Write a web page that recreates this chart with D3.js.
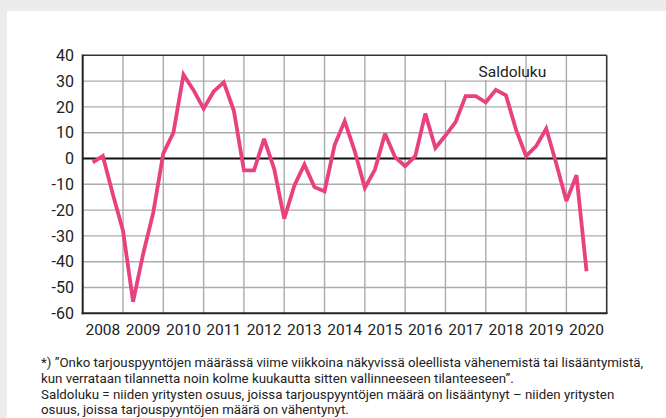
<!DOCTYPE html>
<html>
<head>
<meta charset="utf-8">
<script src="https://cdn.jsdelivr.net/npm/d3@7"></script>
<style>
  html, body { margin: 0; padding: 0; background: #ececec; }
  svg { display: block; }
</style>
</head>
<body>
<svg id="chart" width="666" height="418"></svg>
<script>
// ---- data ----
const quarters = [
  "2008Q1","2008Q2","2008Q3","2008Q4",
  "2009Q1","2009Q2","2009Q3","2009Q4",
  "2010Q1","2010Q2","2010Q3","2010Q4",
  "2011Q1","2011Q2","2011Q3","2011Q4",
  "2012Q1","2012Q2","2012Q3","2012Q4",
  "2013Q1","2013Q2","2013Q3","2013Q4",
  "2014Q1","2014Q2","2014Q3","2014Q4",
  "2015Q1","2015Q2","2015Q3","2015Q4",
  "2016Q1","2016Q2","2016Q3","2016Q4",
  "2017Q1","2017Q2","2017Q3","2017Q4",
  "2018Q1","2018Q2","2018Q3","2018Q4",
  "2019Q1","2019Q2","2019Q3","2019Q4",
  "2020Q1","2020Q2"
];
const saldoluku = [
  -1.5, 1, -14, -28,
  -55.5, -37, -21, 2,
  10, 32.5, 26.5, 19.3,
  26, 29.5, 18.5, -4.6,
  -4.6, 7.6, -4, -23.3,
  -10.5, -2.3, -11.1, -12.7,
  5.2, 14.5, 2.8, -11.4,
  -4.3, 9.6, 0.5, -3,
  0.9, 17.4, 4.1, 8.9,
  14.1, 24.2, 24.2, 21.8,
  26.6, 24.5, 11.2, 0.9,
  4.8, 11.6, -2, -16.5,
  -6.5, -43.7
];
const yearLabels = ["2008","2009","2010","2011","2012","2013","2014","2015","2016","2017","2018","2019","2020"];
const yTicks = [40, 30, 20, 10, 0, -10, -20, -30, -40, -50, -60];
const seriesLabel = "Saldoluku";
const footnoteLines = [
  "*) \u201dOnko tarjouspyyntöjen määrässä viime viikkoina näkyvissä oleellista vähenemistä tai lisääntymistä,",
  "kun verrataan tilannetta noin kolme kuukautta sitten vallinneeseen tilanteeseen\u201d.",
  "Saldoluku = niiden yritysten osuus, joissa tarjouspyyntöjen määrä on lisääntynyt – niiden yritysten",
  "osuus, joissa tarjouspyyntöjen määrä on vähentynyt."
];

// ---- layout ----
const svg = d3.select("#chart");
const L = 82.7, R = 606.7, T = 55.3, B = 313.3;
const font = "Roboto, 'DejaVu Sans', sans-serif";

svg.append("rect").attr("x", 7).attr("y", 11).attr("width", 659).attr("height", 407).attr("fill", "#fff");

const parseQ = s => +s.slice(0, 4) + (+s.slice(5)) / 4;
const x = d3.scaleLinear().domain([+yearLabels[0], +yearLabels[yearLabels.length - 1] + 1]).range([L, R]);
const y = d3.scaleLinear().domain([-60, 40]).range([B, T]);

const g = svg.append("g");

// horizontal gridlines
g.selectAll(".hg").data(yTicks.filter(v => v !== 40 && v !== -60 && v !== 0))
  .join("line")
  .attr("x1", L).attr("x2", R)
  .attr("y1", d => y(d)).attr("y2", d => y(d))
  .attr("stroke", "#ababab").attr("stroke-width", 1.4);

// vertical gridlines at year boundaries
g.selectAll(".vg").data(yearLabels.slice(1))
  .join("line")
  .attr("x1", d => x(+d)).attr("x2", d => x(+d))
  .attr("y1", T).attr("y2", B)
  .attr("stroke", "#ababab").attr("stroke-width", 1.4);

// label box (white, covering grid)
const lbl = { x0: x(2017) - 16, x1: x(2019) - 8 };
g.append("rect").attr("x", lbl.x0).attr("y", T + 1).attr("width", lbl.x1 - lbl.x0).attr("height", y(30) - T - 2.2).attr("fill", "#fff");
g.append("text").attr("x", 478.5).attr("y", 76.5)
  .attr("font-family", font).attr("font-size", 15.5).attr("fill", "#222")
  .text(seriesLabel);

// zero line
g.append("line").attr("x1", L).attr("x2", R).attr("y1", y(0)).attr("y2", y(0))
  .attr("stroke", "#111").attr("stroke-width", 2);

// frame
g.append("line").attr("x1", L).attr("x2", R).attr("y1", T).attr("y2", T).attr("stroke", "#333").attr("stroke-width", 1.6);
g.append("line").attr("x1", R).attr("x2", R).attr("y1", T).attr("y2", B).attr("stroke", "#333").attr("stroke-width", 1.6);
g.append("line").attr("x1", L).attr("x2", L).attr("y1", T - 0.8).attr("y2", B + 1).attr("stroke", "#222").attr("stroke-width", 2);
g.append("line").attr("x1", L - 1).attr("x2", R + 0.8).attr("y1", B).attr("y2", B).attr("stroke", "#222").attr("stroke-width", 2);

// y axis labels
g.selectAll(".yt").data(yTicks).join("text")
  .attr("x", 74).attr("y", d => y(d) + 5.6)
  .attr("text-anchor", "end")
  .attr("font-family", font).attr("font-size", 16).attr("fill", "#222")
  .text(d => d);

// x axis labels
g.selectAll(".xt").data(yearLabels).join("text")
  .attr("x", d => x(+d + 0.5)).attr("y", 335)
  .attr("text-anchor", "middle")
  .attr("font-family", font).attr("font-size", 15.5).attr("fill", "#222")
  .text(d => d);

// series line
const line = d3.line().x(d => x(parseQ(d[0]))).y(d => y(d[1])).curve(d3.curveLinear);
g.append("path")
  .datum(quarters.map((q, i) => [q, saldoluku[i]]))
  .attr("d", line)
  .attr("fill", "none")
  .attr("stroke", "#e9407f")
  .attr("stroke-width", 3.8)
  .attr("stroke-linejoin", "miter")
  .attr("stroke-miterlimit", 3);

// footnote
svg.append("g").selectAll("text").data(footnoteLines).join("text")
  .attr("x", 41).attr("y", (d, i) => 367 + i * 15.8)
  .attr("font-family", font).attr("font-size", 13.3).attr("fill", "#222")
  .text(d => d);
</script>
</body>
</html>
